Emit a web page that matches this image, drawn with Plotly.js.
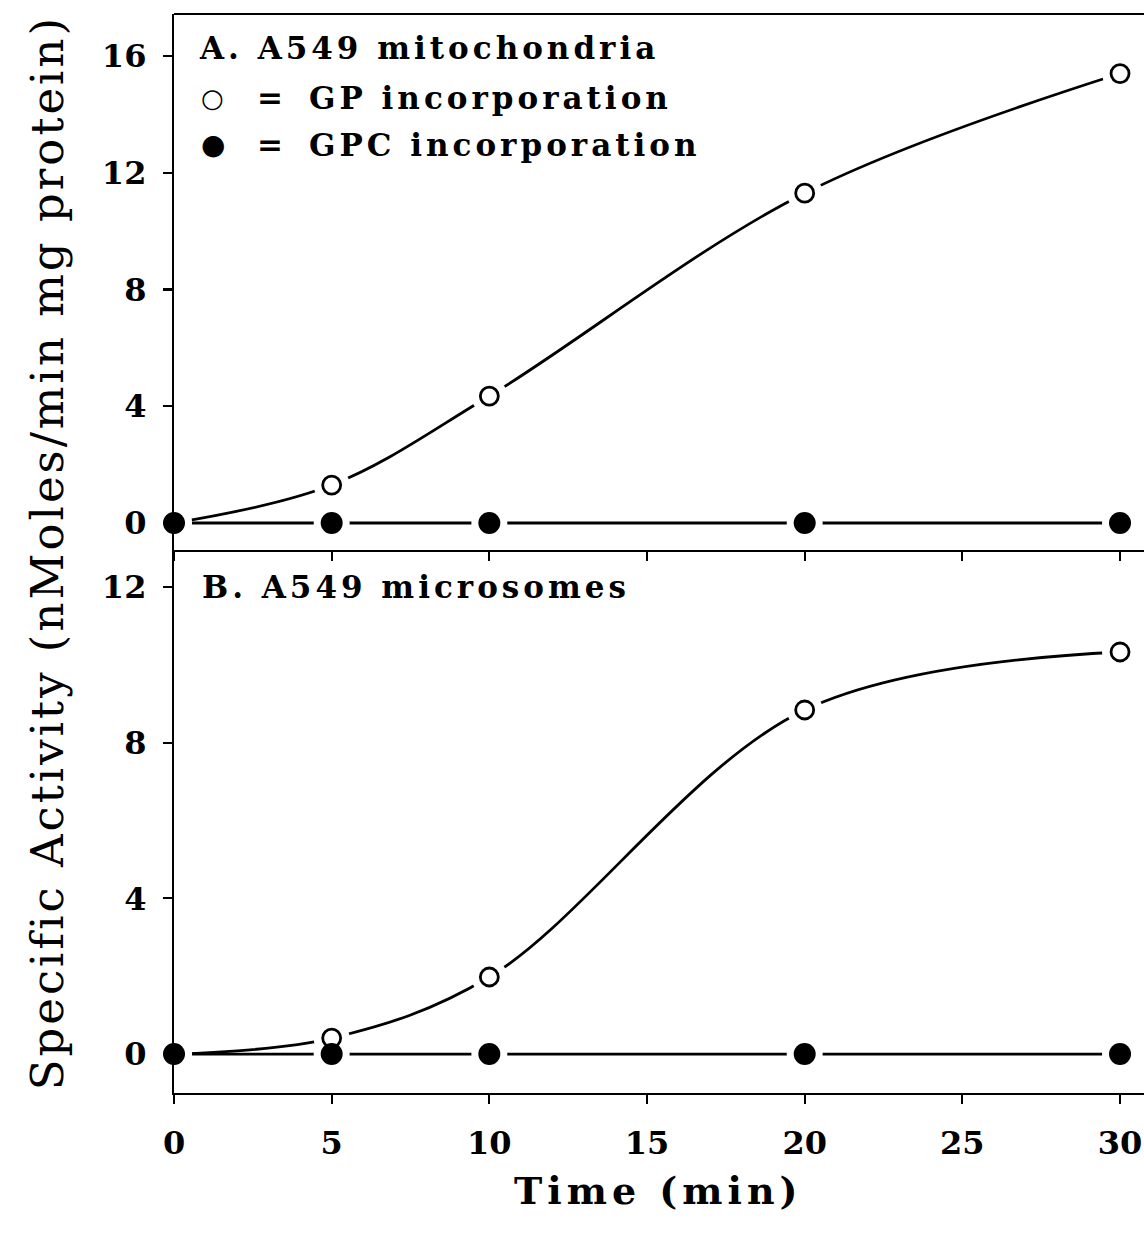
<!DOCTYPE html>
<html>
<head>
<meta charset="utf-8">
<script src="https://cdn.plot.ly/plotly-3.0.1.min.js"></script>
<style>
html,body{margin:0;padding:0;background:#fff;}
#chart{width:1144px;height:1243px;}
</style>
</head>
<body>
<div id="chart"></div>
<script>
// Time points (min)
const timeMin = [0, 5, 10, 20, 30];
// Panel A: A549 mitochondria
const mitoGP  = [0, 1.3, 4.35, 11.3, 15.4];
const mitoGPC = [0, 0, 0, 0, 0];
// Panel B: A549 microsomes
const microGP  = [0, 0.41, 1.98, 8.84, 10.33];
const microGPC = [0, 0, 0, 0, 0];

const xTicks = [0, 5, 10, 15, 20, 25, 30];
const yTicksA = [0, 4, 8, 12, 16];
const yTicksB = [0, 4, 8, 12];

const FONT = "DejaVu Serif, serif";
const LW = 2.8;
const HALO = 'rgb(255,255,255)';

function sp(txt, px) { return '<span style="letter-spacing:' + px + 'px">' + txt + '</span>'; }

function lineTraces(gp, gpc, xa, ya) {
  return [
    {x: timeMin, y: gp, xaxis: xa, yaxis: ya, mode: 'lines', type: 'scatter',
     line: {color: '#000', width: LW, shape: 'spline', smoothing: 1}, hoverinfo: 'skip'},
    {x: timeMin, y: gpc, xaxis: xa, yaxis: ya, mode: 'lines', type: 'scatter',
     line: {color: '#000', width: LW}, hoverinfo: 'skip'}
  ];
}
function markerTraces(gp, gpc, xa, ya) {
  return [
    // white halos that open the gaps of the lines round each point
    {x: timeMin, y: gp, xaxis: xa, yaxis: ya, mode: 'markers', type: 'scatter', cliponaxis: false,
     marker: {symbol: 'circle', size: 36, color: HALO, line: {width: 0}}, hoverinfo: 'skip'},
    {x: timeMin, y: gpc, xaxis: xa, yaxis: ya, mode: 'markers', type: 'scatter', cliponaxis: false,
     marker: {symbol: 'circle', size: 36, color: HALO, line: {width: 0}}, hoverinfo: 'skip'},
    // points
    {x: timeMin, y: gp, xaxis: xa, yaxis: ya, mode: 'markers', type: 'scatter', cliponaxis: false,
     marker: {symbol: 'circle', size: 18, color: 'rgb(255,255,255)', line: {color: '#000', width: 2.8}}},
    {x: timeMin, y: gpc, xaxis: xa, yaxis: ya, mode: 'markers', type: 'scatter', cliponaxis: false,
     marker: {symbol: 'circle', size: 22, color: '#000', line: {width: 0}}}
  ];
}

const data = [].concat(
  lineTraces(mitoGP, mitoGPC, 'x', 'y'),
  lineTraces(microGP, microGPC, 'x2', 'y2'),
  markerTraces(mitoGP, mitoGPC, 'x', 'y'),
  markerTraces(microGP, microGPC, 'x2', 'y2')
);

const splitFrac = 543 / 1079;
const XR = [0, 30.76];
const YRA = [-0.925, 17.44];
const YRB = [-1.0, 12.95];

const axisCommon = {
  showgrid: false, zeroline: false, showline: true, linecolor: '#000', linewidth: 2.2,
  ticks: 'outside', ticklen: 9, tickwidth: 2.2, tickcolor: '#000',
  tickfont: {family: FONT, size: 32, color: '#000', weight: 'bold'}
};

const layout = {
  width: 1144, height: 1243,
  margin: {l: 174, r: 0, t: 14, b: 150},
  paper_bgcolor: '#fff', plot_bgcolor: '#fff',
  showlegend: false,
  font: {family: FONT, color: '#000'},
  xaxis: Object.assign({}, axisCommon, {
    domain: [0, 1], anchor: 'y', range: XR, tickvals: xTicks, showticklabels: false
  }),
  yaxis: Object.assign({}, axisCommon, {
    domain: [splitFrac, 1], anchor: 'x', range: YRA, tickvals: yTicksA, ticklabelstandoff: 10
  }),
  xaxis2: Object.assign({}, axisCommon, {
    domain: [0, 1], anchor: 'y2', range: XR, tickvals: xTicks, ticklabelstandoff: 11
  }),
  yaxis2: Object.assign({}, axisCommon, {
    domain: [0, splitFrac], anchor: 'x2', range: YRB, tickvals: yTicksB, ticklabelstandoff: 10
  }),
  shapes: [
    {type: 'line', xref: 'paper', yref: 'paper', x0: 0, x1: 1, y0: 1, y1: 1,
     line: {color: '#000', width: 2.2}}
  ],
  annotations: [
    {xref: 'paper', yref: 'paper', x: -0.131, y: 0.501, xanchor: 'center', yanchor: 'middle',
     textangle: -90, showarrow: false, text: sp('Specific Activity (nMoles/min mg protein)', 3),
     font: {family: FONT, size: 45, color: '#000'}},
    {xref: 'paper', yref: 'paper', x: 0.499, y: -0.0900, xanchor: 'center', yanchor: 'middle',
     showarrow: false, text: sp('Time (min)', 5), font: {family: FONT, size: 38, color: '#000', weight: 'bold'}},
    {xref: 'paper', yref: 'paper', x: 0.0237, y: 0.9685, xanchor: 'left', yanchor: 'middle',
     showarrow: false, text: sp('A. A549 mitochondria', 4), font: {family: FONT, size: 31, color: '#000', weight: 'bold'}},
    {xref: 'paper', yref: 'paper', x: 0.0402, y: 0.922, xanchor: 'center', yanchor: 'middle',
     showarrow: false, text: '○', font: {family: FONT, size: 26, color: '#000', weight: 'bold'}},
    {xref: 'paper', yref: 'paper', x: 0.0990, y: 0.922, xanchor: 'center', yanchor: 'middle',
     showarrow: false, text: '=', font: {family: FONT, size: 31, color: '#000', weight: 'bold'}},
    {xref: 'paper', yref: 'paper', x: 0.1371, y: 0.922, xanchor: 'left', yanchor: 'middle',
     showarrow: false, text: sp('GP incorporation', 4), font: {family: FONT, size: 31, color: '#000', weight: 'bold'}},
    {xref: 'paper', yref: 'paper', x: 0.0402, y: 0.8786, xanchor: 'center', yanchor: 'middle',
     showarrow: false, text: '●', font: {family: FONT, size: 28, color: '#000'}},
    {xref: 'paper', yref: 'paper', x: 0.0990, y: 0.8786, xanchor: 'center', yanchor: 'middle',
     showarrow: false, text: '=', font: {family: FONT, size: 31, color: '#000', weight: 'bold'}},
    {xref: 'paper', yref: 'paper', x: 0.1371, y: 0.8786, xanchor: 'left', yanchor: 'middle',
     showarrow: false, text: sp('GPC incorporation', 4), font: {family: FONT, size: 31, color: '#000', weight: 'bold'}},
    {xref: 'paper', yref: 'paper', x: 0.0268, y: 0.469, xanchor: 'left', yanchor: 'middle',
     showarrow: false, text: sp('B. A549 microsomes', 4), font: {family: FONT, size: 31, color: '#000', weight: 'bold'}}
  ]
};

Plotly.newPlot('chart', data, layout, {displayModeBar: false, staticPlot: true});
</script>
</body>
</html>
